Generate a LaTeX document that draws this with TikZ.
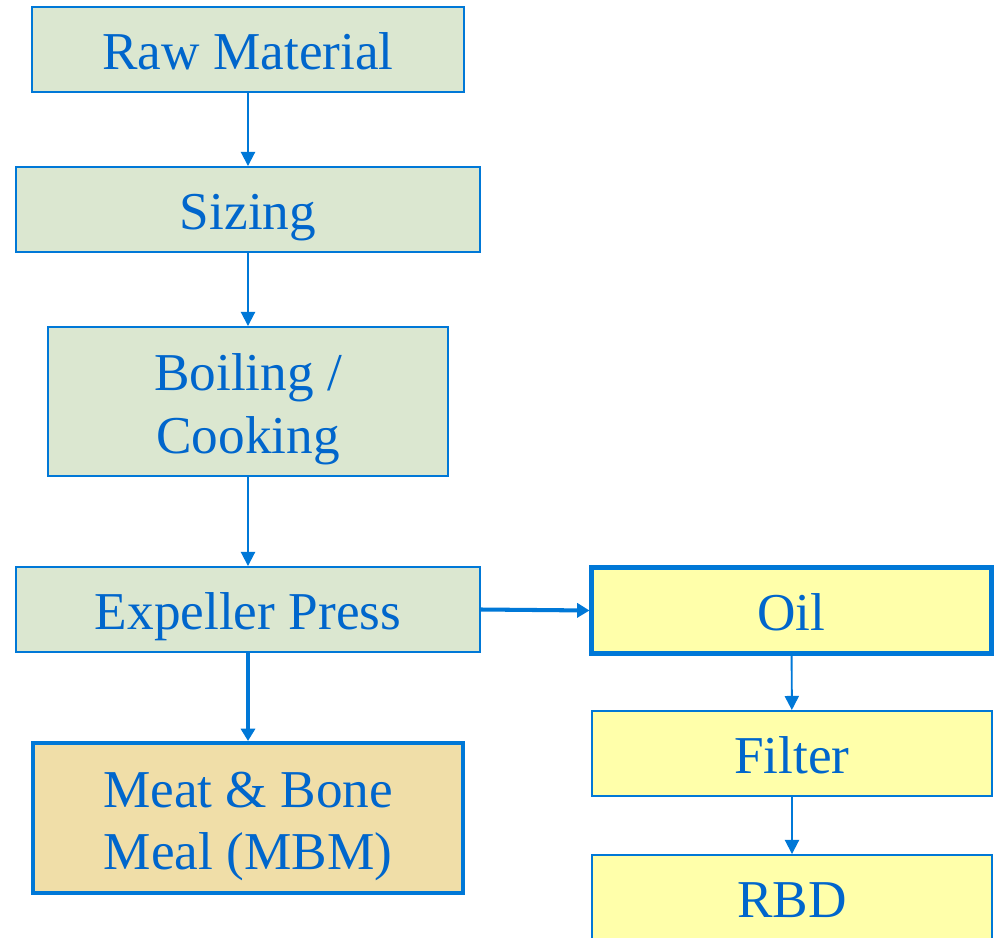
\documentclass[tikz,border=0pt]{standalone}
\usepackage{fontspec}
\setmainfont{Liberation Serif}
\usetikzlibrary{arrows.meta}
\definecolor{flowblue}{RGB}{0,120,215}
\definecolor{textblue}{RGB}{0,102,204}
\definecolor{stepgreen}{RGB}{219,231,208}
\definecolor{oilyellow}{RGB}{255,255,170}
\definecolor{mealtan}{RGB}{240,222,168}
\begin{document}
\begin{tikzpicture}[every node/.style={rectangle, draw=flowblue, line width=1.1pt, text=textblue, align=center, font=\fontsize{30.3}{35.5}\selectfont, inner sep=0pt, text height=27.3pt, text depth=4.5pt},
	twoline/.style={text height=64.8pt, text depth=6.1pt},
	stepbox/.style={fill=stepgreen, minimum height=1.70cm},
	oilbox/.style={fill=oilyellow, minimum width=8.0cm, minimum height=1.70cm},
	flow/.style={draw=flowblue, line width=1.1pt, -{Triangle[length=8pt,width=8pt]}},
	bigflow/.style={draw=flowblue, line width=2.3pt, -{Triangle[length=7pt,width=8pt]}}]
				\useasboundingbox (0,0) rectangle (19.88,-18.76);
				\node[stepbox, minimum width=8.64cm] (raw) at (4.96,-0.99){Raw Material};
				\node[stepbox, minimum width=9.28cm] (sizing) at (4.96,-4.19){Sizing};
				\node[stepbox, twoline, minimum width=8.0cm, minimum height=2.98cm] (boil) at (4.96,-8.03){Boiling /\\Cooking};
				\node[stepbox, minimum width=9.28cm] (press) at (4.96,-12.19){Expeller Press};
				\node[fill=mealtan, twoline, line width=2.3pt, minimum width=8.6cm, minimum height=3.0cm] (mbm) at (4.96,-16.36){Meat \& Bone\\Meal (MBM)};
				\node[oilbox, line width=2.3pt, minimum height=1.72cm] (oil) at (15.83,-12.21){Oil};
				\node[oilbox] (filter) at (15.84,-15.07){Filter};
				\node[oilbox] (rbd) at (15.84,-17.95){RBD};
				
				\path[flow] (raw) -- (sizing);
				\path[flow] (sizing) -- (boil);
				\path[flow] (boil) -- (press);
				\path[bigflow] (press) -- (mbm);
				\path[bigflow] (press.east) -- (oil.west);
				\path[flow] (oil) -- (filter);
				\path[flow] (filter) -- (rbd);
				\end{tikzpicture}
\end{document}
